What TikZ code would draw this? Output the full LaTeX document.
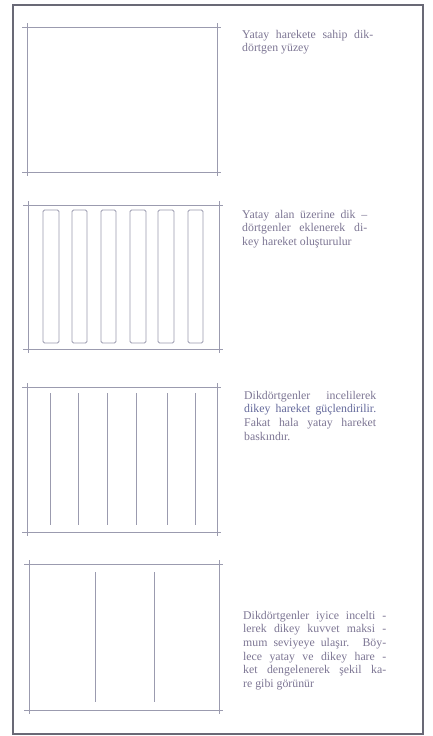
\documentclass[tikz,border=0pt]{standalone}
\usepackage{fontspec}
\setmainfont{Liberation Serif}
\definecolor{framec}{RGB}{105,105,118}
\definecolor{lnc}{RGB}{155,155,175}
\definecolor{txtc}{RGB}{125,118,148}
\definecolor{txtb}{RGB}{100,105,155}
\newcommand\jl[1]{\makebox[\linewidth][s]{#1}\\}
\newcommand\mypanel[4]{%
  \draw[panel] (#1-5,#2) -- (#3+4,#2);
  \draw[panel] (#1-5,#4) -- (#3+4,#4);
  \draw[panel] (#1,#2-4) -- (#1,#4+4);
  \draw[panel] (#3,#2-4) -- (#3,#4+4);}
\tikzset{
  panel/.style={draw=lnc, line width=0.95pt},
  inner/.style={draw=lnc, line width=0.95pt, rounded corners=1.5pt},
  bar/.style={draw=lnc, line width=1pt},
  txtnode/.style={anchor=base west, inner sep=0pt, text=txtc,
    font=\fontsize{11.8}{13.7}\selectfont}
}
\begin{document}
\begin{tikzpicture}[x=1pt,y=-1pt]
\useasboundingbox (0,0) rectangle (432,736);
\fill[white] (0,0) rectangle (432,736);
\draw[framec, line width=1.8pt] (13,5) rectangle (423,734);

% panel 1
\mypanel{27}{27}{217}{172}

% panel 2
\mypanel{28}{205}{219}{349}
\foreach \a/\b in {43/59,72/87,101/116,130/146,158/174,188/203}
  \draw[inner] (\a,210) rectangle (\b,343);

% panel 3
\mypanel{27}{387}{217}{532}
\foreach \x in {50,78,107,136,167,195}
  \draw[bar] (\x,393) -- (\x,525);

% panel 4
\mypanel{29}{564}{219}{710}
\foreach \x in {95,154}
  \draw[bar] (\x,572) -- (\x,702);

% texts
\node[txtnode] (t1) at (242,38) {\parbox[t]{131pt}{%
  \jl{Yatay harekete sahip dik-}dörtgen yüzey}};

\node[txtnode] (t2) at (242,218) {\parbox[t]{125pt}{%
  \jl{Yatay alan üzerine dik –}\jl{dörtgenler eklenerek di-}key hareket oluşturulur}};

\node[txtnode] (t3) at (244,399) {\parbox[t]{132pt}{%
  \jl{Dikdörtgenler incelilerek}\jl{\color{txtb}dikey hareket güçlendirilir.}\jl{Fakat hala yatay hareket}baskındır.}};

\node[txtnode] (t4) at (243,619) {\parbox[t]{143pt}{%
  \jl{Dikdörtgenler iyice incelti -}\jl{lerek dikey kuvvet maksi -}\jl{mum seviyeye ulaşır. Böy-}\jl{lece yatay ve dikey hare -}\jl{ket dengelenerek şekil ka-}re gibi görünür}};
\end{tikzpicture}
\end{document}
